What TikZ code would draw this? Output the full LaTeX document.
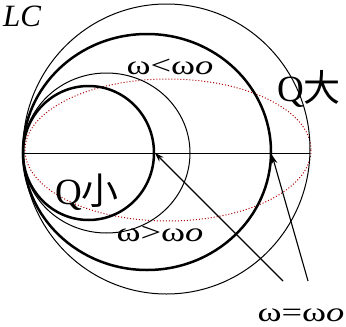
\documentclass[tikz,border=0pt]{standalone}
\usepackage{graphicx}
\usepackage{fontspec}
\setmainfont{Liberation Serif}
\newfontfamily\cjk{Noto Sans CJK SC}[Scale=1.0]
\usetikzlibrary{arrows.meta}
\tikzset{
  thickc/.style={line width=2.5pt},
  thinc/.style={line width=1pt},
  dotc/.style={red!70!black, dotted, line width=1pt},
  lbl/.style={inner sep=0pt, font=\fontsize{27}{27}\selectfont},
  big/.style={inner sep=0pt, font=\fontsize{37}{37}\selectfont},
  arr/.style={line width=1.1pt, -{Stealth[length=9pt,width=6pt]}}
}
\newcommand{\wlabel}[1]{\scalebox{1.35}[1]{#1}}
\begin{document}
\begin{tikzpicture}[x=1pt,y=-1pt]
\useasboundingbox (0,0) rectangle (346,327);
\fill[white] (0,0) rectangle (346,327);
% circles
\draw[dotc] (168,150) ellipse [x radius=143, y radius=71];
\draw[thinc] (166.5,149) ellipse [x radius=143.5, y radius=145];
\draw[thickc] (147,152) ellipse [x radius=124, y radius=118];
\draw[thinc] (106.5,153) ellipse [x radius=83.5, y radius=80];
\draw[thickc] (88.5,153) ellipse [x radius=65.5, y radius=67];
% axis
\coordinate (L) at (23,153);
\coordinate (R) at (310,153);
\draw[line width=1pt] (L) -- (R);
\coordinate (s0) at (155,153);
\coordinate (b0) at (272,155);
\coordinate (t1) at (283,281);
\coordinate (t2) at (308,281);
\draw[arr] (t1) -- (s0);
\draw[arr] (t2) -- (b0);
% labels
\node[lbl] (lt) at (170,67) {\wlabel{ω<ω\textit{o}}};
\node[lbl] (gt) at (160,234) {\wlabel{ω>ω\textit{o}}};
\node[lbl] (eq) at (301,315) {\wlabel{ω=ω\textit{o}}};
\node[big] (qb) at (309,89) {Q{\cjk 大}};
\node[big] (qs) at (87,192) {Q{\cjk 小}};
\node[anchor=base west, inner sep=0pt, font=\fontsize{31}{31}\selectfont\itshape] (lc) at (3,26) {LC};
\end{tikzpicture}
\end{document}
